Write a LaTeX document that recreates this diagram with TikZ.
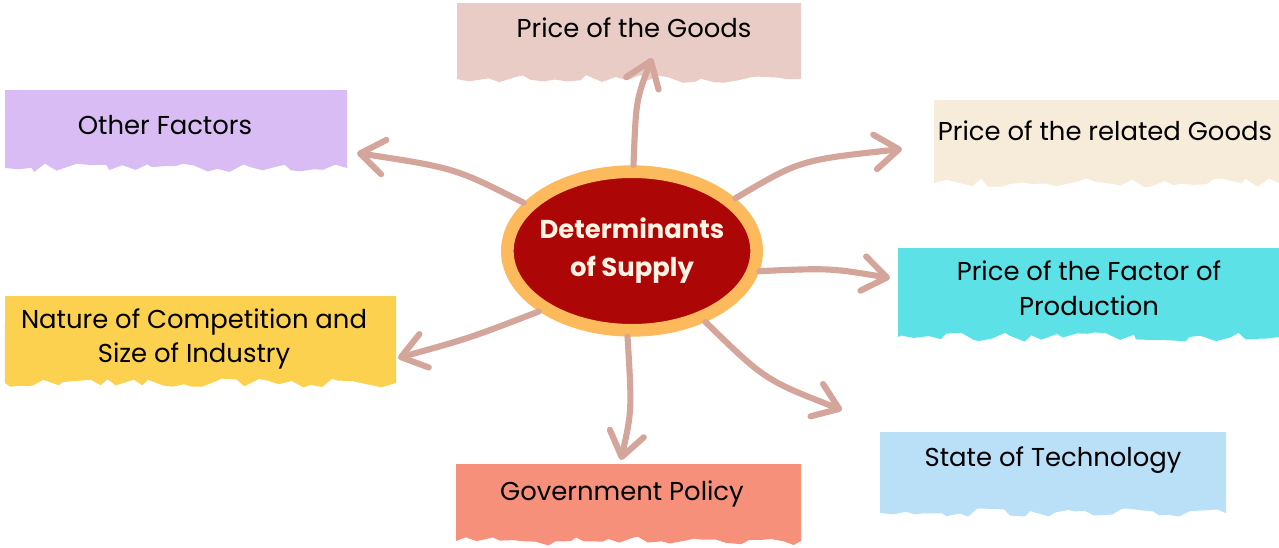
\documentclass[tikz,border=0pt]{standalone}
\usepackage{fontspec}
\setmainfont{Poppins}
\usetikzlibrary{shapes.geometric,arrows.meta,decorations.pathmorphing}
\definecolor{cgoods}{HTML}{E9CCC5}
\definecolor{cother}{HTML}{D9BCF3}
\definecolor{crelated}{HTML}{F7EBDA}
\definecolor{cfactor}{HTML}{5CE1E6}
\definecolor{cnature}{HTML}{FCD14F}
\definecolor{cgovt}{HTML}{F6907A}
\definecolor{ctech}{HTML}{B9E0F7}
\definecolor{cring}{HTML}{FDBA5C}
\definecolor{ccore}{HTML}{AD0606}
\definecolor{carrow}{HTML}{D4A69B}
\definecolor{ctitle}{HTML}{FFF4E4}
\newcommand{\tornbox}[5]{%
  \fill[#1, decoration={random steps,segment length=8pt,amplitude=3.5pt}]
    (#2,#3) -- (#4,#3) -- (#4,#5) decorate{-- (#2,#5)} -- cycle;}
\tikzset{
  label/.style={font=\fontsize{19.4pt}{26pt}\selectfont, align=center, text=black, inner sep=0pt},
  conn/.style={draw=carrow, line width=4.6pt, line cap=round,
    -{Straight Barb[length=18pt,width=26pt,round]}},
}
\begin{document}
\begin{tikzpicture}[x=0.75pt,y=-0.75pt]
\useasboundingbox (0,0) rectangle (1279,547);
\pgfmathsetseed{11}
\tornbox{cgoods}{457}{3}{801}{79}
\tornbox{cother}{5}{90}{347}{168}
\tornbox{crelated}{934}{100}{1279}{183}
\tornbox{cfactor}{898}{248}{1279}{337}
\tornbox{cnature}{5}{296}{396}{383}
\tornbox{cgovt}{456}{464}{801}{541}
\tornbox{ctech}{880}{432}{1226}{513}

\node[label] (goods) at (634,28) {Price of the Goods};
\node[label] (other) at (165,125) {Other Factors};
\node[label] (related) at (1105,131) {Price of the related Goods};
\node[label] (factor) at (1089,288) {Price of the Factor of\\Production};
\node[label] (nature) at (194,339) {Nature of Competition and\\Size of Industry};
\node[label] (govt) at (622,494) {Government Policy};
\node[label] (tech) at (1053,460) {State of Technology};

\node[ellipse, fill=ccore, draw=cring, line width=9.5pt,
      minimum width=187pt, minimum height=119pt, inner sep=0pt] (c) at (632,251) {};
\node[font=\fontsize{19.4pt}{28.5pt}\selectfont\bfseries, text=ctitle, align=center] (title) at (c.center) {Determinants\\of Supply};

\coordinate (tgoods) at (652,58);
\coordinate (tother) at (357,153);
\coordinate (trelated) at (902,149);
\coordinate (tfactor) at (890,278);
\coordinate (tnature) at (398,358);
\coordinate (tgovt) at (621,460);
\coordinate (ttech) at (842,410);

\draw[conn] (c.89) .. controls (636,100) .. (tgoods);
\draw[conn] (c.156) .. controls (455,168) .. (tother);
\draw[conn] (c.27) .. controls (800,160) .. (trelated);
\draw[conn] (c.-9) .. controls (830,268) .. (tfactor);
\draw[conn] (c.213) .. controls (470,338) .. (tnature);
\draw[conn] (c.267) .. controls (632,410) .. (tgovt);
\draw[conn] (c.-44) .. controls (765,380) .. (ttech);
\end{tikzpicture}
\end{document}
